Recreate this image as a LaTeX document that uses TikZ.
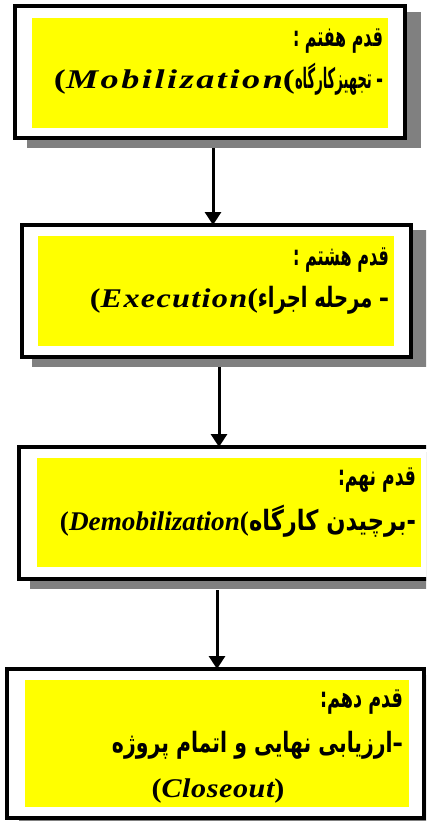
\documentclass[tikz,border=0pt]{standalone}
\usepackage{fontspec}
\usepackage{graphicx}
\usetikzlibrary{arrows.meta,calc}
\TeXXeTstate=1
\newfontfamily\fafont[Script=Arabic]{DejaVu Sans}
\newfontfamily\latfont{Liberation Serif}
% Persian text face
\newcommand\fw{\fafont\bfseries\fontsize{28}{32}\selectfont}
% a Persian run squeezed or stretched to a given width
\newcommand\fa[2]{\resizebox{#1}{\height}{\fw #2}}
% Latin terms: bold parentheses and a letter-spaced bold italic word
\newcommand\lpar[1]{{\latfont\fontsize{27}{30}\selectfont\bfseries #1}}
\newcommand\enword[2]{{\latfont\fontsize{27}{30}\selectfont\bfseries\itshape\addfontfeature{LetterSpace=#1}#2}}
\definecolor{shade}{HTML}{808080}
\definecolor{hilite}{HTML}{FFFF00}
\tikzset{
  frame/.style={draw=black, line width=4pt, fill=white, inner sep=0pt, outer sep=0pt},
  shadowbox/.style={fill=shade},
  yellowbox/.style={fill=hilite},
  txt/.style={anchor=base east, inner sep=0pt, outer sep=0pt},
  flow/.style={line width=3pt, -{Triangle[width=16pt,length=13pt]}}
}
\begin{document}
\begin{tikzpicture}[x=1pt,y=-1pt]
\useasboundingbox (0,0) rectangle (426,821);
\clip (0,0) rectangle (426,821);

% step 7
\fill[shadowbox] (27,12) rectangle (421,148);
\node[frame, minimum width=390pt, minimum height=132pt] (b1) at (210,72) {};
\fill[yellowbox] (32,18) rectangle (388,128);
\node[txt] (t1a) at (383,47) {\fa{90pt}{\beginR قدم هفتم :\endR}};
\node[txt] (t1b) at (383,89) {\fa{88pt}{\beginR – تجهیزکارگاه\endR}};
\node[txt] (t1c) at (t1b.base west) {\resizebox{241pt}{\height}{\lpar{(}\enword{7}{Mobilization}\lpar{(}}};

% step 8
\fill[shadowbox] (32,230) rectangle (428,367);
\node[frame, minimum width=389pt, minimum height=132pt] (b2) at (216.5,291) {};
\fill[yellowbox] (38,236) rectangle (394,346);
\node[txt] (t2a) at (389,265) {\fa{96pt}{\beginR قدم هشتم :\endR}};
\node[txt] (t2b) at (389,307) {\fa{131pt}{\beginR – مرحله اجراء\endR}};
\node[txt] (t2c) at (t2b.base west) {\resizebox{168pt}{\height}{\lpar{(}\enword{4}{Execution}\lpar{(}}};

% step 9
\fill[shadowbox] (30,452) rectangle (446,589);
\node[frame, minimum width=411pt, minimum height=132pt] (b3) at (224.5,513) {};
\fill[yellowbox] (37,458) rectangle (421,567);
\node[txt] (t3a) at (416,485) {\fa{78pt}{\beginR قدم نهم:\endR}};
\node[txt] (t3b) at (416,530) {\fa{167pt}{\beginR -برچیدن کارگاه\endR}};
\node[txt] (t3c) at (t3b.base west) {\resizebox{189pt}{\height}{\lpar{(}\enword{0}{Demobilization}\lpar{(}}};

% step 10
\fill[shadowbox] (19,675) rectangle (440,830);
\node[frame, minimum width=417pt, minimum height=149pt] (b4) at (215.5,743.5) {};
\fill[yellowbox] (25,680) rectangle (409,807);
\node[txt] (t4a) at (403,707) {\fa{83pt}{\beginR قدم دهم:\endR}};
\node[txt] (t4b) at (403,752) {\fa{291pt}{\beginR –ارزیابی نهایی و اتمام پروژه\endR}};
\node[txt, anchor=base] (t4c) at (218,797) {\resizebox{133pt}{\height}{\lpar{(}\enword{2}{Closeout}\lpar{)}}};

% connectors
\coordinate (s1) at (213,148);
\coordinate (s2) at (219,367);
\coordinate (s3) at (217,590);
\draw[flow] (s1) -- (s1 |- b2.north);
\draw[flow] (s2) -- (s2 |- b3.north);
\draw[flow] (s3) -- (s3 |- b4.north);
\end{tikzpicture}
\end{document}
